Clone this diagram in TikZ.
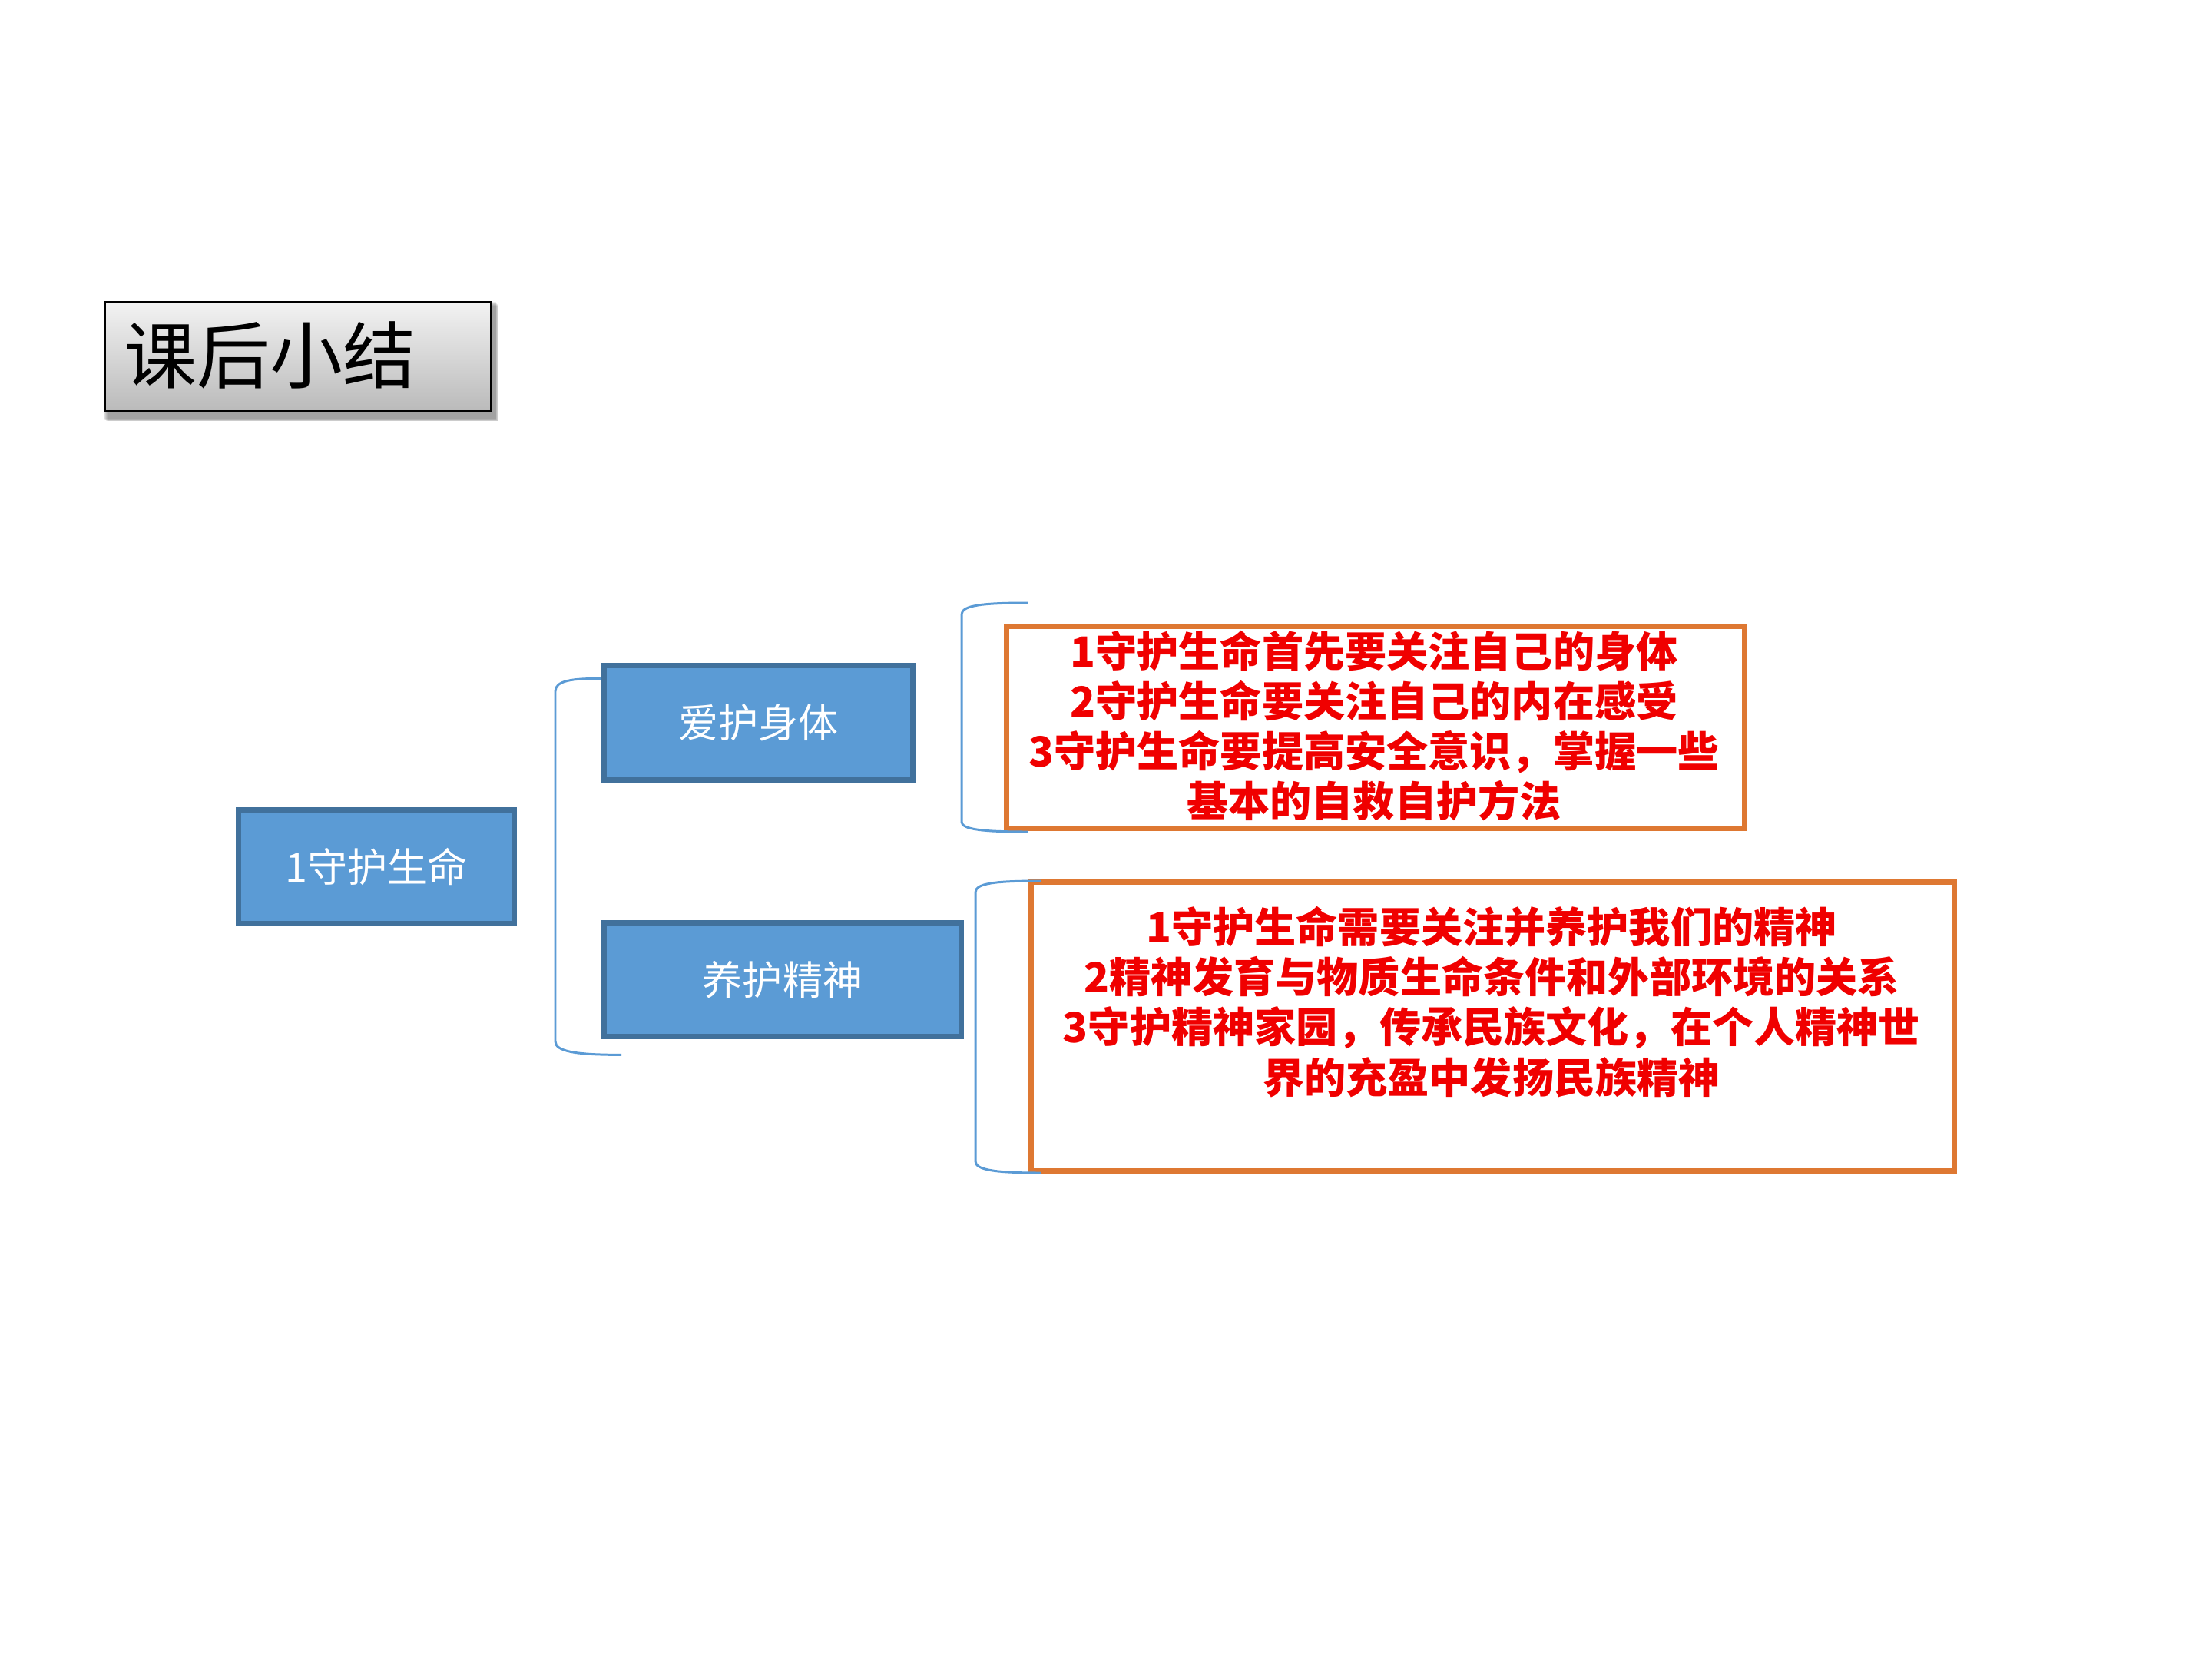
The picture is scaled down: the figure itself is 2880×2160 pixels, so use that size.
\documentclass[tikz,border=0pt]{standalone}
\usepackage{fontspec}
\newfontfamily\cjk{Noto Sans CJK SC}
\definecolor{boxfill}{RGB}{91,155,213}
\definecolor{boxline}{RGB}{65,113,156}
\definecolor{orline}{RGB}{222,120,50}
\definecolor{brline}{RGB}{91,155,213}
\definecolor{redtxt}{RGB}{240,0,0}
\begin{document}
\begin{tikzpicture}[x=0.01cm,y=-0.01cm,
  titlebox/.style={draw=black, line width=0.9pt, top color=black!5, bottom color=black!27, minimum width=5.02cm, minimum height=1.42cm, inner sep=0pt},
  bluebox/.style={draw=boxline, fill=boxfill, line width=2pt, inner sep=0pt, minimum height=1.48cm, text=white, font=\cjk\fontsize{14.8}{18}\selectfont},
  orangebox/.style={draw=orline, line width=2pt, inner sep=0pt, fill=white},
  redtext/.style={text=redtxt, align=center, inner sep=0pt, font=\cjk\bfseries\fontsize{15.4}{18.5}\selectfont},
  brace/.style={draw=brline, line width=0.85pt}]
\useasboundingbox (0,0) rectangle (2880,2160);
\fill[white] (0,0) rectangle (2880,2160);
% title shadow
\foreach \i in {1,...,6}
  \fill[black, opacity=0.07] (134+\i,392+\i) rectangle (645+\i-\i*0.3,546+\i*0.4);
\node[titlebox] (title) at (388,464.5) {};
\node[anchor=west, inner sep=0pt, font=\cjk\fontsize{27}{30}\selectfont] (titletext) at (161,462) {课后小结};
% blue boxes
\node[bluebox, minimum width=3.585cm] (life) at (489.7,1128.2) {1守护生命};
\node[bluebox, minimum width=4.02cm] (body) at (987.5,941) {爱护身体};
\node[bluebox, minimum width=4.65cm] (spirit) at (1019,1275.7) {养护精神};
% orange boxes
\node[orangebox, minimum width=9.6cm, minimum height=2.63cm] (ob1) at (1791,946.7) {};
\node[orangebox, minimum width=12.02cm, minimum height=3.76cm] (ob2) at (1943.5,1336.5) {};
\node[redtext] (t1) at (1789,945) {1守护生命首先要关注自己的身体\\2守护生命要关注自己的内在感受\\3守护生命要提高安全意识，掌握一些\\基本的自救自护方法};
\node[redtext] (t2) at (1942,1304.5) {1守护生命需要关注并养护我们的精神\\2精神发育与物质生命条件和外部环境的关系\\3守护精神家园，传承民族文化，在个人精神世\\界的充盈中发扬民族精神};
% brackets
\coordinate (b1t) at (782,883.4);
\coordinate (b1b) at (809,1373.4);
\draw[brace] (b1t) .. controls (745,883.4) and (723,886) .. (723,900) -- (723,1356) .. controls (723,1369) and (750,1373.4) .. (b1b);
\coordinate (b2t) at (1338,785);
\coordinate (b2b) at (1338,1083);
\draw[brace] (b2t) .. controls (1280,785) and (1252,788) .. (1252,800) -- (1252,1070) .. controls (1252,1080) and (1280,1083) .. (b2b);
\coordinate (b3t) at (1355,1147);
\coordinate (b3b) at (1355,1527);
\draw[brace] (b3t) .. controls (1295,1147) and (1270,1150) .. (1270,1162) -- (1270,1512) .. controls (1270,1523) and (1295,1527) .. (b3b);
\end{tikzpicture}
\end{document}
